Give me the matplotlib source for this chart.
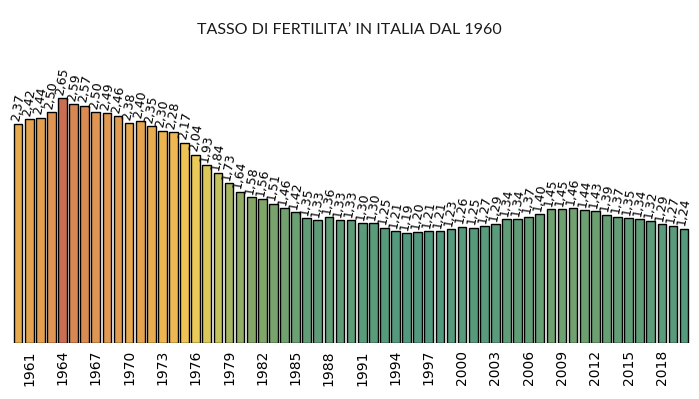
import matplotlib
matplotlib.use("Agg")
import matplotlib.pyplot as plt
import numpy as np
from matplotlib.colors import LinearSegmentedColormap, Normalize

plt.rcParams["font.family"] = ["DejaVu Sans"]

years = list(range(1960, 2021))
fertility = [2.37, 2.42, 2.44, 2.50, 2.65, 2.59, 2.57, 2.50, 2.49, 2.46,
             2.38, 2.40, 2.35, 2.30, 2.28, 2.17, 2.04, 1.93, 1.84, 1.73,
             1.64, 1.58, 1.56, 1.51, 1.46, 1.42, 1.35, 1.33, 1.36, 1.33,
             1.33, 1.30, 1.30, 1.25, 1.21, 1.19, 1.20, 1.21, 1.21, 1.23,
             1.26, 1.25, 1.27, 1.29, 1.34, 1.34, 1.37, 1.40, 1.45, 1.45,
             1.46, 1.44, 1.43, 1.39, 1.37, 1.35, 1.34, 1.32, 1.29, 1.27,
             1.24]
tick_years = list(range(1961, 2020, 3))
title = "TASSO DI FERTILITA’ IN ITALIA DAL 1960"

# colour map anchored on values
anchor_vals = [1.19, 1.30, 1.45, 1.58, 1.73, 1.84, 1.93, 2.04, 2.17, 2.30,
               2.40, 2.50, 2.59, 2.65]
anchor_cols = ["#52997f", "#5a9b7a", "#6ea170", "#84a667", "#a6b562", "#c6c35c",
               "#dac959", "#ebca57", "#efc354", "#edb550", "#e6a54e", "#e09652",
               "#d88851", "#c96e52"]
vmin, vmax = min(anchor_vals), max(anchor_vals)
cmap = LinearSegmentedColormap.from_list(
    "fert", [((v - vmin) / (vmax - vmin), c) for v, c in zip(anchor_vals, anchor_cols)])
norm = Normalize(vmin, vmax)

fig = plt.figure(figsize=(6.99, 3.99), dpi=100)
ax = fig.add_axes([0.018, 0.140, 0.9686, 0.695])

x = np.arange(len(years))
colors = [cmap(norm(v)) for v in fertility]
ax.bar(x, fertility, width=0.78, color=colors, edgecolor="black", linewidth=1.0)

for xi, v in zip(x, fertility):
    ax.text(xi, v + 0.02, f"{v:.2f}".replace(".", ","), rotation=80,
            ha="center", va="bottom", fontsize=9, color="black")

ax.set_xlim(-0.5, len(years) - 0.5)
ax.set_ylim(0, 3.0)
ax.set_xticks([years.index(y) for y in tick_years])
ax.set_xticklabels([str(y) for y in tick_years], rotation=90, fontsize=10)
ax.tick_params(axis="x", length=0, pad=5)
ax.set_yticks([])
for s in ax.spines.values():
    s.set_visible(False)

fig.text(0.5, 0.925, title, ha="center", va="center", fontsize=11.5,
         family=["Lato", "DejaVu Sans"], color="#1a1a1a")

fig.savefig("out.png", dpi=100)
